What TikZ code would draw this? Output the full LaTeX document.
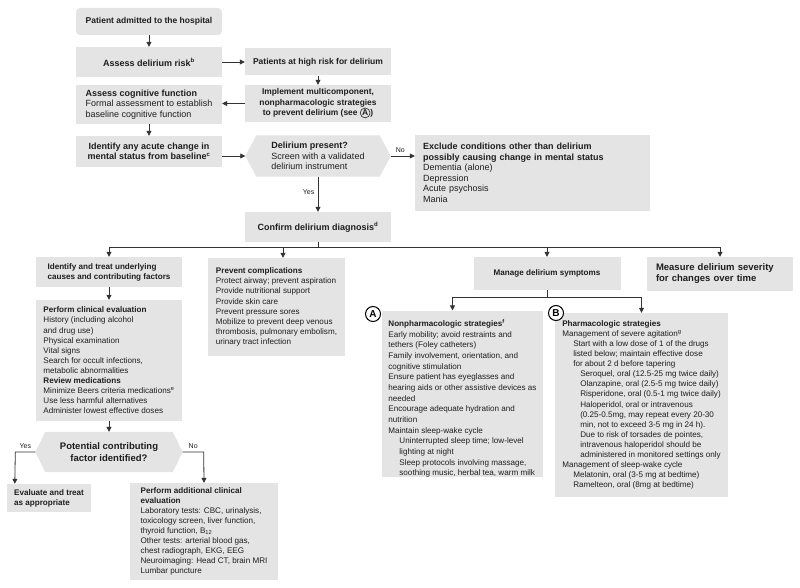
\documentclass[tikz,border=0pt]{standalone}
\usepackage{fontspec}
\setmainfont{Liberation Sans}
\usepackage{tikz}
\usetikzlibrary{arrows.meta, positioning, calc, backgrounds}

\definecolor{boxgray}{HTML}{E4E4E4}
\definecolor{linegray}{HTML}{333333}
\definecolor{txtgray}{HTML}{1E1E1E}
\newcommand{\bigtxt}{\fontsize{9}{10.5}\selectfont}
\newcommand{\midtxt}{\fontsize{8.5}{10.5}\selectfont}
\newcommand{\smalltxt}{\fontsize{8.1}{10.1}\selectfont}
\newcommand{\ind}{\hspace*{11pt}}
\newcommand{\indd}{\hspace*{18pt}}
\newcommand{\circA}{\tikz[baseline=(ca.base)]\node[shape=circle, draw=linegray, fill=none, line width=0.7pt, inner sep=0.5pt, minimum width=0pt, minimum height=0pt, align=center, font=\midtxt\bfseries](ca){A};}

\begin{document}
\begin{tikzpicture}[x=1pt, y=-1pt,
	stepbox/.style={fill=boxgray, text=txtgray, inner sep=0pt, align=center, font=\bigtxt\bfseries},
	listbox/.style={fill=boxgray, text=txtgray, inner sep=0pt, align=left, font=\smalltxt},
	decision/.style={stepbox, fill=none},
	arr/.style={draw=linegray, line width=0.8pt, -{Triangle[length=5pt,width=5pt]}},
	link/.style={draw=linegray, line width=0.8pt},
	tag/.style={circle, draw=black, fill=white, line width=1pt, inner sep=0pt, minimum size=15pt, font=\bfseries\fontsize{10}{10}\selectfont},
	yn/.style={font=\fontsize{7}{8}\selectfont, text=txtgray}]
	\useasboundingbox (0,0) rectangle (800,588);
	
	% top column
	\node[stepbox, font=\midtxt\bfseries, rounded corners=4pt, minimum width=146pt, minimum height=27pt] (admit) at (149,21.5) {Patient admitted to the hospital};
	\node[stepbox, minimum width=146pt, minimum height=30pt] (risk) at (149,62) {Assess delirium risk\textsuperscript{b}};
	\node[stepbox, font=\midtxt\bfseries, minimum width=146pt, minimum height=27pt] (highrisk) at (318,62) {Patients at high risk for delirium};
	\node[stepbox, font=\bigtxt, align=left, minimum width=146pt, minimum height=39pt] (cognitive) at (149,104.5)
	{\textbf{Assess cognitive function}\\Formal assessment to establish\\baseline cognitive function};
	\node[stepbox, font=\fontsize{8.4}{10.5}\selectfont\bfseries, minimum width=146pt, minimum height=37pt] (implement) at (318,103.5)
	{Implement multicomponent,\\nonpharmacologic strategies\\to prevent delirium (see \circA)};
	\node[stepbox, minimum width=146pt, minimum height=31pt] (acute) at (149,151.5)
	{Identify any acute change in\\mental status from baseline\textsuperscript{c}};
	\node[decision, font=\bigtxt, align=left, minimum width=145pt, minimum height=41pt] (delirium) at (318,156)
	{\textbf{Delirium present?}\\Screen with a validated\\delirium instrument};
	\node[stepbox, font=\bigtxt, align=left, text width=219pt, minimum width=235pt, minimum height=76pt] (exclude) at (532.5,173)
	{\textbf{Exclude conditions other than delirium}\\\textbf{possibly causing change in mental status}\\Dementia (alone)\\Depression\\Acute psychosis\\Mania};
	\node[stepbox, minimum width=146pt, minimum height=30pt] (confirm) at (318,227) {Confirm delirium diagnosis\textsuperscript{d}};
	
	\draw[arr] (admit) -- (risk);
	\draw[arr] (risk) -- (highrisk);
	\draw[arr] (highrisk) -- (implement);
	\draw[arr] (implement.west) -- (implement.west -| cognitive.east);
	\draw[arr] (cognitive) -- (acute);
	\draw[arr] (delirium.west -| acute.east) -- (delirium.west);
	\draw[arr] (delirium.east) -- node[yn, above, pos=0.4] {No} (delirium.east -| exclude.west);
	\draw[arr] (delirium) -- node[yn, left, pos=0.45] {Yes} (confirm);
	
	% four branches
	\node[listbox, font=\smalltxt\bfseries, minimum width=146pt, minimum height=30pt] (identify) at (109,272)
	{Identify and treat underlying\\causes and contributing factors};
	\node[listbox, minimum width=137pt, minimum height=98pt] (prevent) at (276.5,307)
	{\textbf{Prevent complications}\\Protect airway; prevent aspiration\\Provide nutritional support\\Provide skin care\\Prevent pressure sores\\Mobilize to prevent deep venous\\thrombosis, pulmonary embolism,\\urinary tract infection};
	\node[stepbox, font=\smalltxt\bfseries, minimum width=147pt, minimum height=33pt] (manage) at (547,273.5) {Manage delirium symptoms};
	\node[listbox, font=\fontsize{9.5}{11}\selectfont\bfseries, text width=128pt, minimum width=146pt, minimum height=34pt] (measure) at (720,274)
	{Measure delirium severity\\for changes over time};
	
	\coordinate (bus) at (318,247);
	\draw[link] (confirm) -- (bus);
	\draw[arr] (bus) -| (identify.north);
	\draw[arr] (bus) -| ($(prevent.north)+(6.5,0)$);
	\draw[arr] (bus) -| (manage.north);
	\draw[arr] (bus) -| (measure.north);
	
	% causes column
	\node[listbox, minimum width=146pt, minimum height=121pt] (clinical) at (109,360.5)
	{\textbf{Perform clinical evaluation}\\History (including alcohol\\and drug use)\\Physical examination\\Vital signs\\Search for occult infections,\\metabolic abnormalities\\\textbf{Review medications}\\Minimize Beers criteria medications\textsuperscript{e}\\Use less harmful alternatives\\Administer lowest effective doses};
	\node[decision, font=\fontsize{9.5}{11.5}\selectfont\bfseries, minimum width=147pt, minimum height=40pt] (factor) at (109,452)
	{Potential contributing\\factor identified?};
	\node[listbox, font=\smalltxt\bfseries, minimum width=84pt, minimum height=28pt] (evaluate) at (49,498)
	{Evaluate and treat\\as appropriate};
	\node[listbox, minimum width=148pt, minimum height=97pt] (additional) at (204,531.5)
	{\textbf{Perform additional clinical}\\\textbf{evaluation}\\Laboratory tests: CBC, urinalysis,\\toxicology screen, liver function,\\thyroid function, B\textsubscript{12}\\Other tests: arterial blood gas,\\chest radiograph, EKG, EEG\\Neuroimaging: Head CT, brain MRI\\Lumbar puncture};
	
	% hexagon fills behind the two questions
	\begin{scope}[on background layer]
		\fill[boxgray] (delirium.west) -- ($(delirium.north west)+(11,0)$) -- ($(delirium.north east)+(-11,0)$) -- (delirium.east)
		-- ($(delirium.south east)+(-11,0)$) -- ($(delirium.south west)+(11,0)$) -- cycle;
		\fill[boxgray] (factor.west) -- ($(factor.north west)+(10,0)$) -- ($(factor.north east)+(-10,0)$) -- (factor.east)
		-- ($(factor.south east)+(-10,0)$) -- ($(factor.south west)+(10,0)$) -- cycle;
	\end{scope}
	
	\draw[arr] (identify) -- (clinical);
	\draw[arr] (clinical) -- (factor);
	\draw[arr] (factor.west) -- node[yn, above] {Yes} ++(-20,0) -- ($(evaluate.north west)+(8,0)$);
	\draw[arr] (factor.east) -- node[yn, above] {No} ++(21,0) -- (additional.north);
	
	% symptom management
	\node[listbox, font=\fontsize{8.1}{10.65}\selectfont, minimum width=161pt, minimum height=162pt] (nonpharm) at (462.5,394)
	{\rule{0pt}{16pt}\textbf{Nonpharmacologic strategies\textsuperscript{f}}\\Early mobility; avoid restraints and\\tethers (Foley catheters)\\Family involvement, orientation, and\\cognitive stimulation\\Ensure patient has eyeglasses and\\hearing aids or other assistive devices as\\needed\\Encourage adequate hydration and\\nutrition\\Maintain sleep-wake cycle\\\ind Uninterrupted sleep time; low-level\\\ind lighting at night\\\ind Sleep protocols involving massage,\\\ind soothing music, herbal tea, warm milk};
	\node[listbox, minimum width=173pt, minimum height=184pt] (pharm) at (641.5,405)
	{\textbf{Pharmacologic strategies}\\Management of severe agitation\textsuperscript{g}\\\ind Start with a low dose of 1 of the drugs\\\ind listed below; maintain effective dose\\\ind for about 2 d before tapering\\\indd Seroquel, oral (12.5-25 mg twice daily)\\\indd Olanzapine, oral (2.5-5 mg twice daily)\\\indd Risperidone, oral (0.5-1 mg twice daily)\\\indd Haloperidol, oral or intravenous\\\indd (0.25-0.5mg, may repeat every 20-30\\\indd min, not to exceed 3-5 mg in 24 h).\\\indd Due to risk of torsades de pointes,\\\indd intravenous haloperidol should be\\\indd administered in monitored settings only\\Management of sleep-wake cycle\\\ind Melatonin, oral (3-5 mg at bedtime)\\\ind Ramelteon, oral (8mg at bedtime)};
	\node[tag] (tagA) at (373,314) {A};
	\node[tag] (tagB) at (556,313) {B};
	
	\coordinate (split) at (547,297);
	\draw[link] (manage) -- (split);
	\draw[arr] (split) -| ($(nonpharm.north)+(-10,0)$);
	\draw[arr] (split) -| (pharm.north);
\end{tikzpicture}
\end{document}
